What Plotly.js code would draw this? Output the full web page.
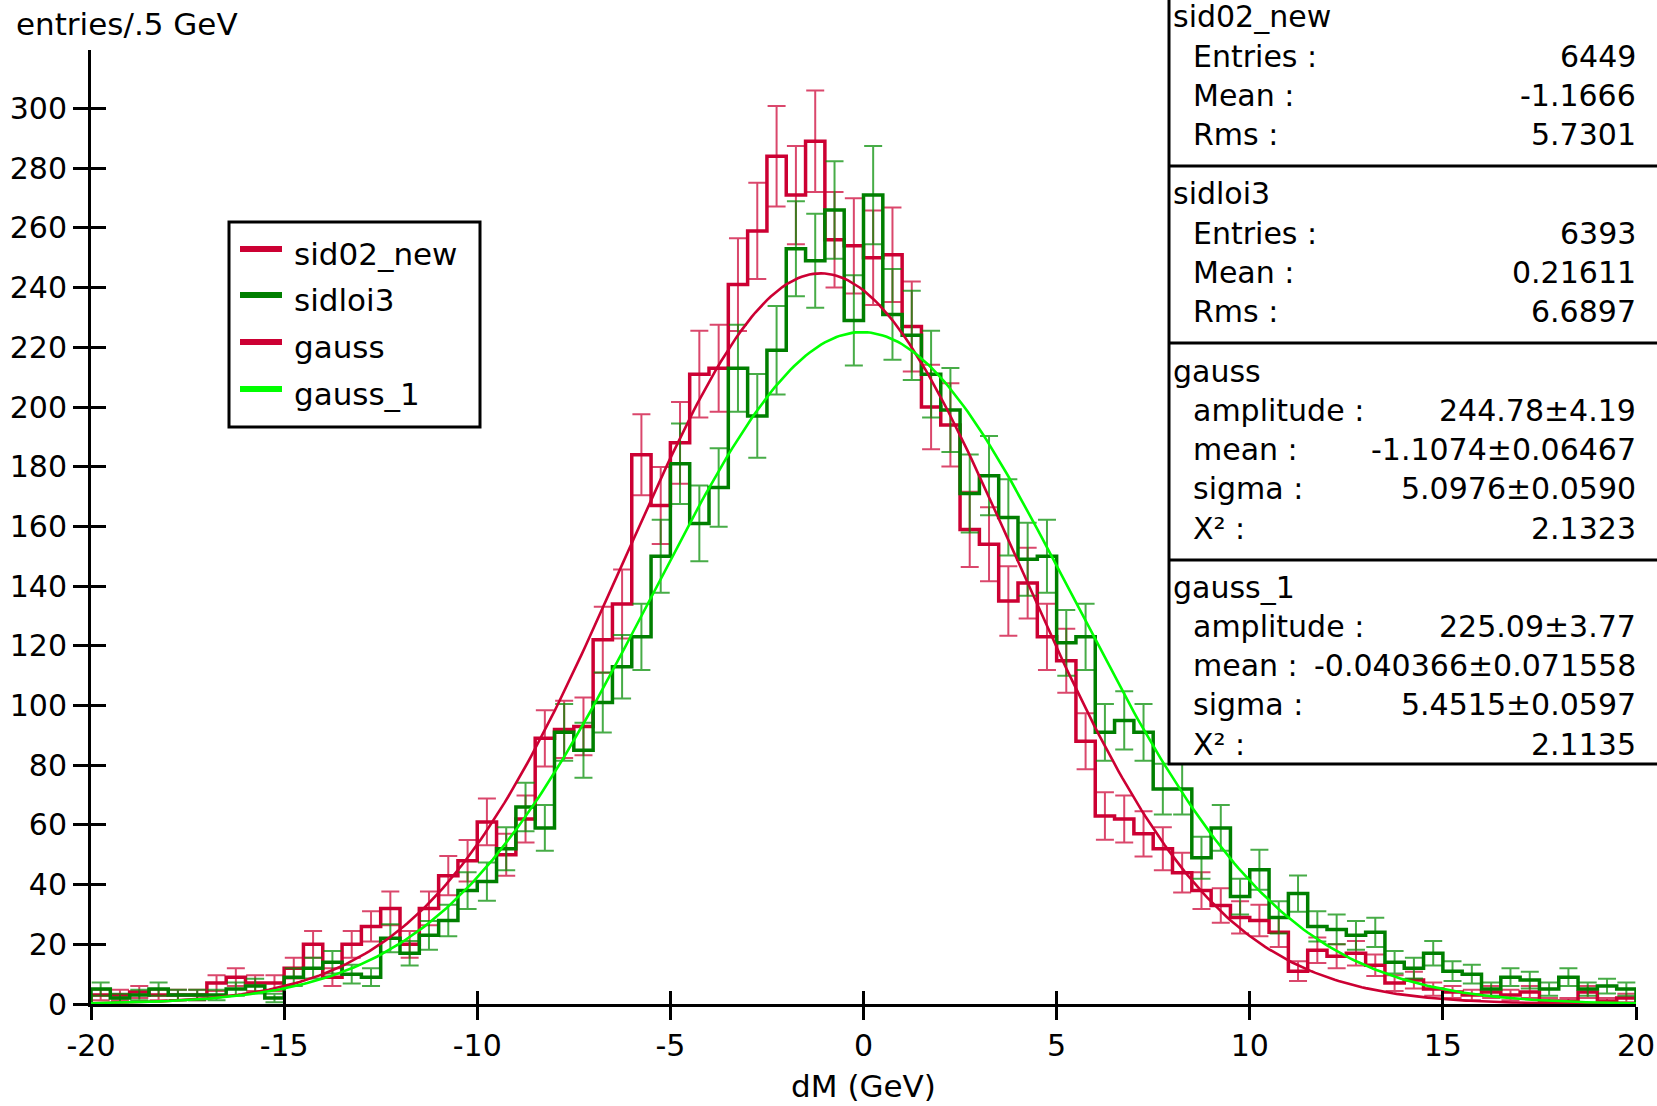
<!DOCTYPE html>
<html>
<head>
<meta charset="utf-8">
<script src="https://cdn.plot.ly/plotly-3.0.1.min.js"></script>
<style>
html,body{margin:0;padding:0;background:#ffffff;}
#chart{width:1657px;height:1106px;}
</style>
</head>
<body>
<div id="chart"></div>
<script>
// ---------------- DATA ----------------
const binLow = -20;
const binWidth = 0.5;
const nBins = 80;

// entries per 0.5 GeV bin, from dM = -20 to 20
const sid02_new = [
  3, 3, 4, 3, 3, 3, 7, 9, 7, 7,
  12, 20, 9, 20, 26, 32, 20, 32, 43, 48,
  61, 50, 62, 89, 92, 93, 122, 134, 184, 167,
  188, 211, 213, 241, 259, 284, 271, 289, 256, 254,
  250, 251, 227, 200, 194, 159, 154, 135, 141, 123,
  115, 88, 63, 62, 57, 52, 44, 38, 33, 29,
  28, 24, 11, 18, 16, 17, 13, 7, 8, 5,
  4, 3, 4, 3, 4, 1, 1, 4, 1, 2
];
const sidloi3 = [
  5, 2, 3, 5, 3, 3, 3, 5, 6, 2,
  9, 12, 14, 10, 9, 22, 17, 23, 28, 38,
  41, 52, 66, 59, 91, 85, 101, 113, 123, 150,
  181, 161, 173, 213, 197, 219, 253, 249, 266, 229,
  271, 231, 224, 211, 199, 171, 177, 163, 149, 150,
  121, 123, 91, 95, 91, 72, 72, 49, 59, 36,
  45, 29, 37, 26, 25, 23, 24, 14, 12, 17,
  11, 10, 5, 9, 8, 5, 9, 5, 6, 5
];

// fit parameters [amplitude, mean, sigma]
const gaussFit = [244.78, -1.1074, 5.0976];
const gauss1Fit = [225.09, -0.040366, 5.4515];

const seriesNames = ['sid02_new', 'sidloi3', 'gauss', 'gauss_1'];
const xTitle = 'dM (GeV)';
const yTitle = 'entries/.5 GeV';
const xTickVals = [-20, -15, -10, -5, 0, 5, 10, 15, 20];
const xTickLabels = ['-20', '-15', '-10', '-5', '0', '5', '10', '15', '20'];

const statsHeaders = ['sid02_new', 'sidloi3', 'gauss', 'gauss_1'];
const statsLabels = [
  ['Entries :', 'Mean :', 'Rms :'],
  ['Entries :', 'Mean :', 'Rms :'],
  ['amplitude :', 'mean :', 'sigma :', 'Χ² :'],
  ['amplitude :', 'mean :', 'sigma :', 'Χ² :']
];
const statsValues = [
  ['6449', '-1.1666', '5.7301'],
  ['6393', '0.21611', '6.6897'],
  ['244.78±4.19', '-1.1074±0.06467', '5.0976±0.0590', '2.1323'],
  ['225.09±3.77', '-0.040366±0.071558', '5.4515±0.0597', '2.1135']
];

// ---------------- STYLE ----------------
const FONT = 'DejaVu Sans, Liberation Sans, Arial, sans-serif';
const RED = '#cc0033';
const RED_ERR = 'rgba(204,0,51,0.72)';
const DGREEN = '#007f00';
const DGREEN_ERR = 'rgba(0,140,0,0.72)';
const LGREEN = '#00ff00';

// plot area in pixels
const PL = 91, PR = 1636, PT = 50, PB = 1004;
const W = 1657, H = 1106;
function pxX(x) { return (x - PL) / (PR - PL); }
function pxY(y) { return (PB - y) / (PB - PT); }

// ---------------- TRACES ----------------
const edges = [];
for (let i = 0; i <= nBins; i++) edges.push(binLow + i * binWidth);
const centers = [];
for (let i = 0; i < nBins; i++) centers.push(binLow + (i + 0.5) * binWidth);

function stepTrace(vals, color) {
  const xs = [edges[0]].concat(edges.slice(0, nBins), [edges[nBins], edges[nBins]]);
  const ys = [0].concat(vals, [vals[nBins - 1], 0]);
  return {
    x: xs, y: ys, type: 'scatter', mode: 'lines',
    line: {color: color, width: 3.5, shape: 'hv'},
    showlegend: false, hoverinfo: 'skip', cliponaxis: false
  };
}
function errTrace(vals, color) {
  return {
    x: centers, y: vals, type: 'scatter', mode: 'markers',
    marker: {size: 1, opacity: 0},
    error_y: {type: 'sqrt', visible: true, color: color, thickness: 2, width: 9},
    showlegend: false, hoverinfo: 'skip'
  };
}
function fitTrace(p, color) {
  const xs = [], ys = [];
  const n = 400;
  for (let i = 0; i <= n; i++) {
    const x = binLow + (nBins * binWidth) * i / n;
    xs.push(x);
    ys.push(p[0] * Math.exp(-Math.pow(x - p[1], 2) / (2 * p[2] * p[2])));
  }
  return {
    x: xs, y: ys, type: 'scatter', mode: 'lines',
    line: {color: color, width: 2.6},
    showlegend: false, hoverinfo: 'skip'
  };
}

const traces = [
  errTrace(sid02_new, RED_ERR),
  stepTrace(sid02_new, RED),
  errTrace(sidloi3, DGREEN_ERR),
  stepTrace(sidloi3, DGREEN),
  fitTrace(gaussFit, RED),
  fitTrace(gauss1Fit, LGREEN),
  // carrier for the inner half of the crossing ticks
  {x: [null], y: [null], xaxis: 'x2', yaxis: 'y2', type: 'scatter', mode: 'lines', showlegend: false, hoverinfo: 'skip'}
];

// ---------------- ANNOTATIONS / SHAPES ----------------
const annotations = [];
const shapes = [];

// y title
annotations.push({
  text: yTitle, xref: 'paper', yref: 'paper', x: pxX(14), y: pxY(24),
  xanchor: 'left', yanchor: 'middle', showarrow: false,
  font: {family: FONT, size: 31, color: '#000'}
});

// legend (box + entries)
const legendColors = [RED, DGREEN, RED, LGREEN];
const legRows = [249, 295, 342, 389];
shapes.push({type: 'rect', xref: 'paper', yref: 'paper',
  x0: pxX(229), x1: pxX(480), y0: pxY(222), y1: pxY(427),
  line: {color: '#000', width: 3}, fillcolor: '#ffffff', layer: 'above'});
seriesNames.forEach((nm, i) => {
  shapes.push({type: 'line', xref: 'paper', yref: 'paper',
    x0: pxX(240), x1: pxX(282), y0: pxY(legRows[i]), y1: pxY(legRows[i]),
    line: {color: legendColors[i], width: 6}, layer: 'above'});
  annotations.push({text: nm, xref: 'paper', yref: 'paper', x: pxX(292), y: pxY(legRows[i] + 5),
    xanchor: 'left', yanchor: 'middle', showarrow: false,
    font: {family: FONT, size: 31, color: '#000'}});
});

// statistics box
const boxL = 1169;
const dividers = [166, 343, 560];
const boxBottom = 764;
const headerY = [17, 194, 371, 587];
const rowStep = 39.3;
shapes.push({type: 'rect', xref: 'paper', yref: 'paper',
  x0: pxX(boxL), x1: pxX(W + 10), y0: pxY(-10), y1: pxY(boxBottom),
  line: {color: '#000', width: 3}, fillcolor: '#ffffff', layer: 'above'});
dividers.forEach(d => {
  shapes.push({type: 'line', xref: 'paper', yref: 'paper',
    x0: pxX(boxL), x1: pxX(W + 10), y0: pxY(d), y1: pxY(d),
    line: {color: '#000', width: 3}, layer: 'above'});
});
statsHeaders.forEach((h, g) => {
  annotations.push({text: h, xref: 'paper', yref: 'paper', x: pxX(1171), y: pxY(headerY[g]),
    xanchor: 'left', yanchor: 'middle', showarrow: false,
    font: {family: FONT, size: 30, color: '#000'}});
  statsLabels[g].forEach((lab, r) => {
    const yy = headerY[g] + rowStep * (r + 1);
    annotations.push({text: lab, xref: 'paper', yref: 'paper', x: pxX(1191), y: pxY(yy),
      xanchor: 'left', yanchor: 'middle', showarrow: false,
      font: {family: FONT, size: 30, color: '#000'}});
    annotations.push({text: statsValues[g][r], xref: 'paper', yref: 'paper', x: pxX(1638), y: pxY(yy),
      xanchor: 'right', yanchor: 'middle', showarrow: false,
      font: {family: FONT, size: 30, color: '#000'}});
  });
});

// ---------------- LAYOUT ----------------
const yTop = 319.6;
const layout = {
  width: W, height: H,
  margin: {l: PL, r: W - PR, t: PT, b: H - PB, pad: 0, autoexpand: false},
  paper_bgcolor: '#ffffff', plot_bgcolor: '#ffffff',
  showlegend: false,
  hovermode: false,
  font: {family: FONT, color: '#000'},
  xaxis: {
    range: [-20, 20], tickmode: 'array', tickvals: xTickVals, ticktext: xTickLabels,
    ticks: 'outside', ticklen: 13, tickwidth: 3, tickcolor: '#000',
    showline: true, linewidth: 3, linecolor: '#000',
    showgrid: false, zeroline: false, fixedrange: true,
    tickfont: {family: FONT, size: 30, color: '#000'},
    ticklabelstandoff: 0,
    title: {text: xTitle, font: {family: FONT, size: 31, color: '#000'}, standoff: 14},
    automargin: false
  },
  yaxis: {
    range: [0, yTop], tickmode: 'linear', tick0: 0, dtick: 20,
    ticks: 'outside', ticklen: 15, tickwidth: 3, tickcolor: '#000',
    showline: true, linewidth: 3, linecolor: '#000',
    showgrid: false, zeroline: false, fixedrange: true,
    tickfont: {family: FONT, size: 30, color: '#000'},
    ticklabelstandoff: 0,
    automargin: false
  },
  xaxis2: {
    overlaying: 'x', anchor: 'y2', side: 'bottom',
    range: [-20, 20], tickmode: 'array', tickvals: xTickVals,
    ticks: 'inside', ticklen: 13, tickwidth: 3, tickcolor: '#000',
    showticklabels: false, showline: false, showgrid: false, zeroline: false, fixedrange: true
  },
  yaxis2: {
    overlaying: 'y', anchor: 'x2', side: 'left',
    range: [0, yTop], tickmode: 'linear', tick0: 0, dtick: 20,
    ticks: 'inside', ticklen: 15, tickwidth: 3, tickcolor: '#000',
    showticklabels: false, showline: false, showgrid: false, zeroline: false, fixedrange: true
  },
  annotations: annotations,
  shapes: shapes
};

Plotly.newPlot('chart', traces, layout, {displayModeBar: false, staticPlot: true});
</script>
</body>
</html>
